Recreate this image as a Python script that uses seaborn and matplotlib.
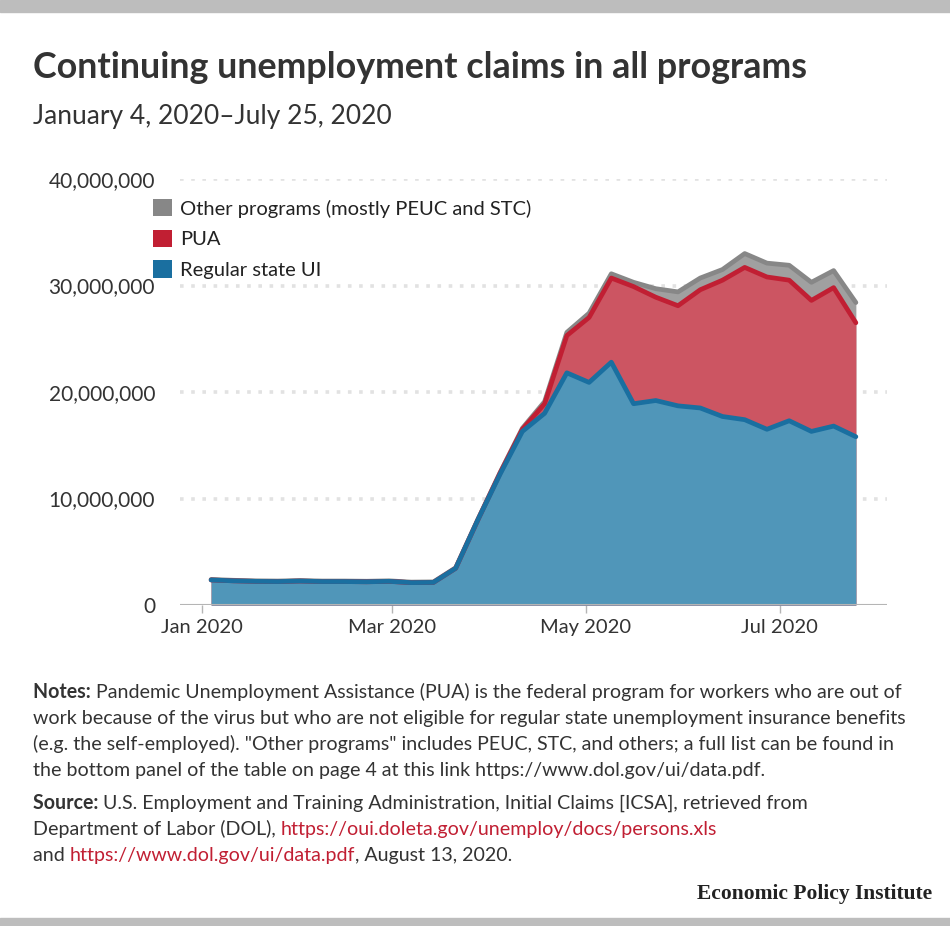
import matplotlib
matplotlib.use("Agg")
import matplotlib.pyplot as plt
import matplotlib.dates as mdates
from matplotlib.patches import Patch, Rectangle
import seaborn as sns
import pandas as pd
import numpy as np

# ---------------- data (millions of continuing claims) ----------------
week_ending = ["2020-01-04", "2020-01-11", "2020-01-18", "2020-01-25", "2020-02-01",
               "2020-02-08", "2020-02-15", "2020-02-22", "2020-02-29", "2020-03-07",
               "2020-03-14", "2020-03-21", "2020-03-28", "2020-04-04", "2020-04-11",
               "2020-04-18", "2020-04-25", "2020-05-02", "2020-05-09", "2020-05-16",
               "2020-05-23", "2020-05-30", "2020-06-06", "2020-06-13", "2020-06-20",
               "2020-06-27", "2020-07-04", "2020-07-11", "2020-07-18", "2020-07-25"]
regular_state_ui = [2.35, 2.27, 2.22, 2.20, 2.25, 2.20, 2.20, 2.18, 2.22, 2.10,
                    2.12, 3.45, 8.00, 12.30, 16.30, 18.00, 21.80, 20.90, 22.80, 18.90,
                    19.20, 18.70, 18.50, 17.70, 17.40, 16.50, 17.30, 16.30, 16.80, 15.80]
pua = [0.0, 0.0, 0.0, 0.0, 0.0, 0.0, 0.0, 0.0, 0.0, 0.0,
       0.0, 0.0, 0.0, 0.10, 0.20, 0.90, 3.50, 6.10, 7.90, 11.00,
       9.70, 9.40, 11.10, 12.80, 14.30, 14.30, 13.20, 12.30, 13.00, 10.70]
other_programs = [0.05, 0.05, 0.05, 0.05, 0.05, 0.05, 0.05, 0.05, 0.05, 0.05,
                  0.05, 0.05, 0.05, 0.05, 0.10, 0.20, 0.30, 0.40, 0.40, 0.40,
                  0.80, 1.30, 1.10, 1.00, 1.30, 1.30, 1.40, 1.70, 1.60, 1.90]
series_labels = ["Other programs (mostly PEUC and STC)", "PUA", "Regular state UI"]
y_ticks = [0, 10_000_000, 20_000_000, 30_000_000, 40_000_000]
x_ticks = ["2020-01-01", "2020-03-01", "2020-05-01", "2020-07-01"]
x_tick_labels = ["Jan 2020", "Mar 2020", "May 2020", "Jul 2020"]

title = "Continuing unemployment claims in all programs"
subtitle = "January 4, 2020\u2013July 25, 2020"

# ---------------- frame ----------------
df = pd.DataFrame({
    "date": pd.to_datetime(week_ending),
    "ui": np.array(regular_state_ui) * 1e6,
    "pua": np.array(pua) * 1e6,
    "other": np.array(other_programs) * 1e6,
})
df["top_ui"] = df["ui"]
df["top_pua"] = df["ui"] + df["pua"]
df["top_other"] = df["top_pua"] + df["other"]

sns.set_theme(style="white")
plt.rcParams["font.family"] = ["Lato", "DejaVu Sans"]

W, H = 950, 926
fig = plt.figure(figsize=(W / 100, H / 100), dpi=100)
fig.patch.set_facecolor("white")

def fx(px):
    return px / W

def fy(py):
    return 1 - py / H

ax_left, ax_right, ax_top, ax_bot = 180, 887, 179, 605
ax = fig.add_axes([fx(ax_left), fy(ax_bot), fx(ax_right - ax_left), (ax_bot - ax_top) / H])

blue_line, blue_fill = "#1a6fa0", "#5096b9"
red_line, red_fill = "#c11f33", "#cc5562"
gray_line, gray_fill = "#878787", "#a0a0a0"

layers = [("top_other", gray_line, gray_fill),
          ("top_pua", red_line, red_fill),
          ("top_ui", blue_line, blue_fill)]
for col, lc, fc in layers:
    ax.fill_between(df["date"], 0, df[col], color=fc, lw=0, zorder=2)
    sns.lineplot(data=df, x="date", y=col, color=lc, lw=3.4, ax=ax, zorder=3,
                 legend=False)

# axes styling
xmin = pd.Timestamp("2020-01-01") - pd.Timedelta(days=6.8)
xmax = pd.Timestamp("2020-01-01") + pd.Timedelta(days=215.8)
ax.set_xlim(xmin, xmax)
ax.set_ylim(0, 40_000_000)
for s in ax.spines.values():
    s.set_visible(False)
for yv in y_ticks[1:]:
    ax.axhline(yv, color="#e2e2e2", lw=2.6, ls=(0, (1, 2.1)), zorder=1)
ax.axhline(0, color="#b5b5b5", lw=1.5, zorder=4)

ax.set_yticks(y_ticks)
ax.set_yticklabels([f"{v:,}" for v in y_ticks])
ax.set_xticks(pd.to_datetime(x_ticks))
ax.set_xticklabels(x_tick_labels)
ax.tick_params(axis="y", length=0, pad=18, labelsize=15, labelcolor="#333333")
ax.tick_params(axis="x", length=6, width=1, color="#b5b5b5", pad=4,
               labelsize=14.5, labelcolor="#333333", bottom=True, direction="out")
ax.set_xlabel("")
ax.set_ylabel("")
ax.grid(False)

# legend
handles = [Patch(facecolor=c, edgecolor="none") for c in ["#878787", red_line, blue_line]]
fig.legend(handles, series_labels, loc="upper left",
           bbox_to_anchor=(fx(153), fy(199)), bbox_transform=fig.transFigure,
           frameon=False, fontsize=14.5, handlelength=0.95, handleheight=0.95,
           handletextpad=0.4, labelspacing=0.6, borderpad=0, borderaxespad=0,
           labelcolor="#222222")

# bands
fig.patches.append(Rectangle((0, fy(12)), 1, 12 / H, transform=fig.transFigure,
                             color="#bdbdbd", zorder=0))
fig.patches.append(Rectangle((0, 0), 1, 8 / H, transform=fig.transFigure,
                             color="#bdbdbd", zorder=0))

# titles
fig.text(fx(33), fy(78), title, fontsize=25.8, fontweight="bold", color="#333333",
         va="baseline")
fig.text(fx(33), fy(124), subtitle, fontsize=19, fontweight="normal", color="#333333",
         va="baseline")

# rich text helper
renderer = fig.canvas.get_renderer()

def text_width(s, **kw):
    t = fig.text(0, 0, s + "|", **kw)
    t2 = fig.text(0, 0, "|", **kw)
    w = t.get_window_extent(renderer).width - t2.get_window_extent(renderer).width
    t.remove()
    t2.remove()
    return w

def rich_line(x_px, y_px, segs, size=14.1):
    x = x_px
    for s, color, weight in segs:
        kw = dict(fontsize=size, color=color, fontweight=weight)
        fig.text(fx(x), fy(y_px), s, va="baseline", **kw)
        x += text_width(s, **kw)

txt = "#333333"
link = "#c11f33"
note_y = [698, 724, 750, 776]
rich_line(33, note_y[0], [("Notes: ", txt, "bold"),
                          ("Pandemic Unemployment Assistance (PUA) is the federal program for workers who are out of", txt, "normal")])
rich_line(33, note_y[1], [("work because of the virus but who are not eligible for regular state unemployment insurance benefits", txt, "normal")])
rich_line(33, note_y[2], [("(e.g. the self-employed). \"Other programs\" includes PEUC, STC, and others; a full list can be found in", txt, "normal")])
rich_line(33, note_y[3], [("the bottom panel of the table on page 4 at this link https://www.dol.gov/ui/data.pdf.", txt, "normal")])

src_y = [809, 835, 861]
rich_line(33, src_y[0], [("Source: ", txt, "bold"),
                         ("U.S. Employment and Training Administration, Initial Claims [ICSA], retrieved from", txt, "normal")])
rich_line(33, src_y[1], [("Department of Labor (DOL), ", txt, "normal"),
                         ("https://oui.doleta.gov/unemploy/docs/persons.xls", link, "normal")])
rich_line(33, src_y[2], [("and ", txt, "normal"),
                         ("https://www.dol.gov/ui/data.pdf", link, "normal"),
                         (", August 13, 2020.", txt, "normal")])

fig.text(fx(932), fy(899), "Economic Policy Institute", ha="right", va="baseline",
         fontsize=15.5, fontweight="bold", family="Liberation Serif", color="#222222")

fig.savefig("out.png", dpi=100, facecolor="white")
